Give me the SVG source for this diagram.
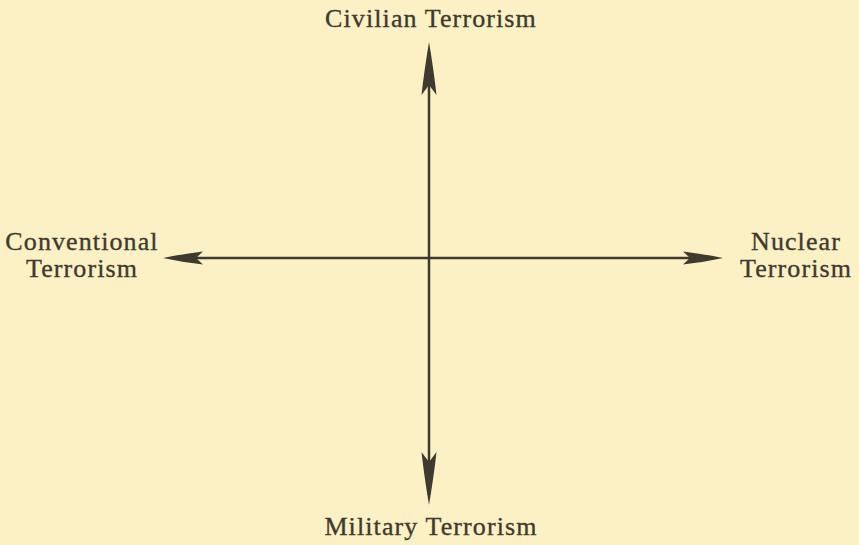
<svg xmlns="http://www.w3.org/2000/svg" width="859" height="545" viewBox="0 0 859 545">
<style>
.bg{fill:#fbf1c4}
.t{font-family:"Liberation Serif","Times New Roman",serif;font-size:26px;fill:#3f3a30;stroke:#3f3a30;stroke-width:0.35;text-anchor:middle;letter-spacing:1.1px}
.ax{stroke:#3f3a30;stroke-width:2.5;fill:none}
.ah{fill:#3f3a30}
</style>
<defs>
<marker id="av" markerUnits="userSpaceOnUse" viewBox="-50 -10 60 20" refX="0" refY="0" markerWidth="60" markerHeight="20" orient="auto-start-reverse" overflow="visible">
<path class="ah" d="M10,0 Q-20,-5 -43,-7.5 L-33,0 L-43,7.5 Q-20,5 10,0 Z"/>
</marker>
<marker id="ahz" markerUnits="userSpaceOnUse" viewBox="-40 -10 50 20" refX="0" refY="0" markerWidth="50" markerHeight="20" orient="auto-start-reverse" overflow="visible">
<path class="ah" d="M10,0 Q-12,-4.5 -30,-6.5 L-23,0 L-30,6.5 Q-12,4.5 10,0 Z"/>
</marker>
</defs>
<rect class="bg" x="0" y="0" width="859" height="545"/>
<g id="connectors">
<line class="ax" x1="429" y1="52" x2="429" y2="495" marker-start="url(#av)" marker-end="url(#av)"/>
<line class="ax" x1="173" y1="258" x2="713" y2="258" marker-start="url(#ahz)" marker-end="url(#ahz)"/>
</g>
<g id="civilian"><text class="t" x="431" y="27">Civilian Terrorism</text></g>
<g id="military"><text class="t" x="431" y="535">Military Terrorism</text></g>
<g id="conventional"><text class="t" x="82" y="250">Conventional</text><text class="t" x="82" y="277">Terrorism</text></g>
<g id="nuclear"><text class="t" x="796" y="250">Nuclear</text><text class="t" x="796" y="277">Terrorism</text></g>
</svg>
